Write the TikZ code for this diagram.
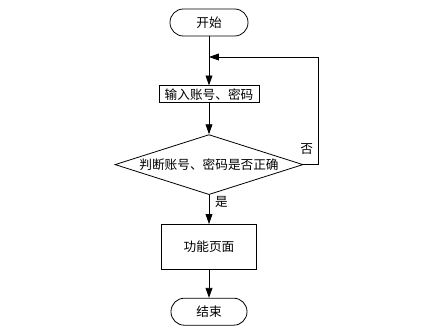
\documentclass[tikz,border=0pt]{standalone}
\usepackage{fontspec}
\newfontfamily\cjk{Noto Sans CJK SC}
\usetikzlibrary{arrows.meta,positioning,shapes.geometric}

\begin{document}
\begin{tikzpicture}[x=0.75pt,y=-0.75pt,
 txt/.style={font=\cjk\fontsize{9.5}{11}\selectfont},
 term/.style={txt,draw,line width=0.6pt,rounded corners=10pt,
 minimum width=58.5pt,minimum height=20.25pt,inner sep=0pt},
 proc/.style={txt,draw,line width=0.6pt,minimum width=75pt,
 minimum height=12.75pt,inner sep=0pt},
 cond/.style={txt,draw,line width=0.6pt,diamond,aspect=3.13,
 minimum width=141pt,minimum height=45pt,inner sep=0pt},
 flow/.style={-{Triangle[length=2.6mm,width=1.8mm]},line width=0.6pt}]
\useasboundingbox (0,0) rectangle (447,335);
\node[term] (start) at (209,22.5) {开始};
\node[proc,below=36.75pt of start] (input) {输入账号、密码};
\node[cond,below=23.25pt of input] (check) {判断账号、密码是否正确};
\node[proc,minimum width=71.25pt,minimum height=33.75pt,
 below=21.75pt of check] (func) {功能页面};
\node[term,minimum width=57pt,below=21pt of func] (stop) {结束};
\coordinate (loopin) at (209,57);
\draw[flow] (start) -- (input);
\draw[flow] (input) -- (check);
\draw[flow] (check) -- node[txt,right=1pt,pos=0.25] (yes) {是} (func);
\draw[flow] (func) -- (stop);
\draw[flow] (check.east) -- ++(15,0) coordinate (turn) |- (loopin);
\node[txt,above left=4pt and 0.5pt of turn] (no) {否};
\end{tikzpicture}
\end{document}
